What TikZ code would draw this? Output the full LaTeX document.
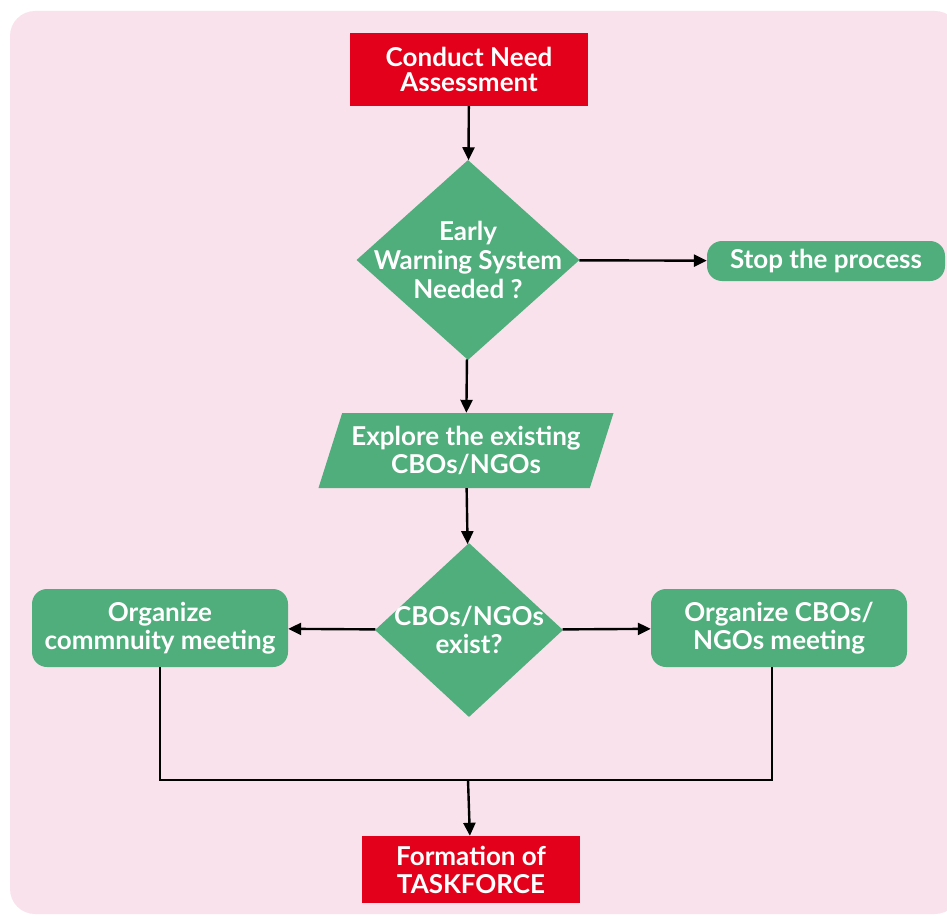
\documentclass[tikz,border=0pt]{standalone}
\usepackage{fontspec}
\setmainfont{Lato}
\usetikzlibrary{shapes.geometric, arrows.meta, positioning}
\definecolor{bgpink}{HTML}{F9E2EC}
\definecolor{boxred}{HTML}{E2001A}
\definecolor{boxgreen}{HTML}{4FAE7B}

\begin{document}
\begin{tikzpicture}[x=1pt, y=-1pt,
	every node/.style={font=\fontsize{26}{28}\selectfont\bfseries, text=white, align=center},
	redbox/.style={fill=boxred, inner sep=0pt},
	greenbox/.style={fill=boxgreen, rounded corners=15pt, inner sep=0pt},
	decision/.style={diamond, fill=boxgreen, inner sep=0pt},
	datain/.style={trapezium, trapezium left angle=64, trapezium right angle=116, trapezium stretches body, fill=boxgreen, inner sep=0pt},
	arr/.style={line width=2.4pt, -{Triangle[length=13pt, width=12pt]}},
	link/.style={line width=2.4pt}]
	% page and background
	\useasboundingbox (0,0) rectangle (947,915);
	\fill[bgpink, rounded corners=25pt] (10,11) rectangle (960,914);
	% top of the chart
	\node[redbox, minimum width=238pt, minimum height=73pt, font=\fontsize{26}{25}\selectfont\bfseries] (assess) at (469,69.5) {Conduct Need\\Assessment};
	\node[decision, minimum width=223pt, minimum height=200pt,
		label={[font=\fontsize{26}{29}\selectfont\bfseries, text=white, align=center]center:Early\\Warning System\\Needed ?}] (ews) at (468,260) {};
	\node[greenbox, minimum width=238pt, minimum height=40pt] (stop) at (826,261) {Stop the process};
	% explore step
	\node[datain, minimum width=295pt, minimum height=75pt] (explore) at (466,450.5) {Explore the existing\\CBOs/NGOs};
	\node[decision, minimum width=188pt, minimum height=174pt,
		label={[font=\fontsize{26}{28}\selectfont\bfseries, text=white, align=center]center:CBOs/NGOs\\exist?}] (exist) at (469,630) {};
	% meetings
	\node[greenbox, minimum width=256pt, minimum height=78pt] (orgcom) at (160,628) {Organize\\commnuity meeting};
	\node[greenbox, minimum width=256pt, minimum height=78pt] (orgngo) at (779,628) {Organize CBOs/\\NGOs meeting};
	% end
	\node[redbox, minimum width=218pt, minimum height=67pt] (task) at (471,869.5) {Formation of\\TASKFORCE};
	\coordinate (join) at (468,780);
	% connectors
	\draw[arr] (assess) -- (ews);
	\draw[arr] (ews) -- (stop);
	\draw[arr] (ews) -- (explore);
	\draw[arr] (explore) -- (exist);
	\draw[arr] (exist) -- (orgcom);
	\draw[arr] (exist) -- (orgngo);
	\draw[link] (orgcom.south) |- (join);
	\draw[link] ([xshift=-7pt]orgngo.south) |- (join);
	\draw[arr] (join) -- (task);
\end{tikzpicture}
\end{document}
